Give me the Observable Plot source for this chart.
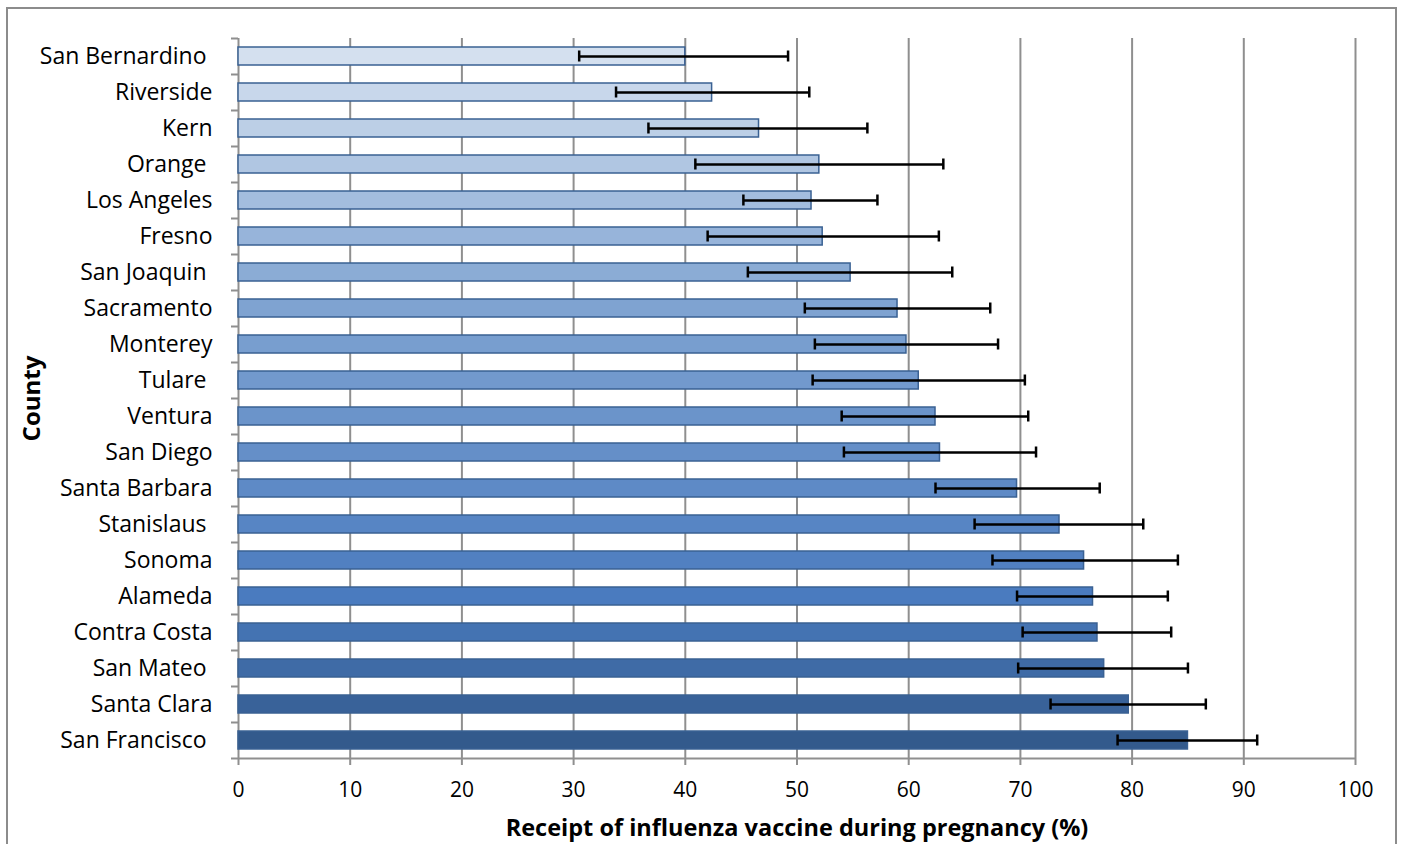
<!DOCTYPE html>
<html>
<head>
<meta charset="utf-8">
<script src="https://cdn.jsdelivr.net/npm/d3@7"></script>
<script src="https://cdn.jsdelivr.net/npm/@observablehq/plot@0.6"></script>
<style>
  html, body { margin: 0; padding: 0; background: #fff; overflow: hidden; width: 1401px; height: 844px; }
  #frame { position: absolute; left: 6px; top: 7px; width: 1391px; height: 900px; border: 2px solid #8c8c8c; box-sizing: border-box; }
  #chart { position: absolute; left: 0; top: 0; }
  #chart svg text { white-space: pre; }
</style>
</head>
<body>
<div id="frame"></div>
<div id="chart"></div>
<script>
const counties = ["San Bernardino ", "Riverside", "Kern", "Orange ", "Los Angeles", "Fresno", "San Joaquin ", "Sacramento", "Monterey", "Tulare ", "Ventura", "San Diego", "Santa Barbara", "Stanislaus ", "Sonoma", "Alameda", "Contra Costa", "San Mateo ", "Santa Clara", "San Francisco "];
const estimates = [40.0, 42.4, 46.6, 52.0, 51.3, 52.3, 54.8, 59.0, 59.8, 60.9, 62.4, 62.8, 69.7, 73.5, 75.7, 76.5, 76.9, 77.5, 79.7, 85.0];
const lower = [30.5, 33.8, 36.7, 40.9, 45.2, 42.0, 45.6, 50.7, 51.6, 51.4, 54.0, 54.2, 62.4, 65.9, 67.5, 69.7, 70.2, 69.8, 72.7, 78.7];
const upper = [49.2, 51.1, 56.3, 63.1, 57.2, 62.7, 63.9, 67.3, 68.0, 70.4, 70.7, 71.4, 77.1, 81.0, 84.1, 83.2, 83.5, 85.0, 86.6, 91.2];
const xTicks = [0, 10, 20, 30, 40, 50, 60, 70, 80, 90, 100];
const xLabel = "Receipt of influenza vaccine during pregnancy (%)";
const yLabel = "County";

const data = counties.map((c, i) => ({county: c, idx: i, value: estimates[i], lo: lower[i], hi: upper[i]}));

const font = "'Open Sans', 'Noto Sans', sans-serif";
const gridColor = "#8f8f8f";

const chart = Plot.plot({
  width: 1401,
  height: 844,
  marginLeft: 238,
  marginRight: 46,
  marginTop: 38,
  marginBottom: 86,
  style: {fontFamily: font, fontSize: "22px", color: "#000", background: "transparent"},
  x: {domain: [0, 100], ticks: xTicks, label: null},
  y: {domain: counties, paddingInner: 0.5, paddingOuter: 0.25, label: null},
  color: {type: "linear", domain: [0, 7, 15, 19], range: ["#d4e0ef", "#7fa3d1", "#4a7bbf", "#335a8c"]},
  marks: [
    Plot.ruleX(xTicks.filter(d => d > 0), {stroke: gridColor, strokeWidth: 2, strokeOpacity: 1}),
    Plot.ruleX([0], {stroke: gridColor, strokeWidth: 2, strokeOpacity: 1}),
    Plot.ruleY([counties[counties.length - 1]], {dy: 18, x1: 0, x2: 100, stroke: gridColor, strokeWidth: 2, strokeOpacity: 1}),
    Plot.axisY({tickSize: 7, dy: 18, tickFormat: () => "", label: null, stroke: gridColor, strokeWidth: 2}),
    Plot.axisY([counties[0]], {tickSize: 7, dy: -18, tickFormat: () => "", label: null, stroke: gridColor, strokeWidth: 2}),
    Plot.axisY({tickSize: 0, tickPadding: 26, label: null, fontSize: 23, fill: "#000"}),
    Plot.axisX({ticks: xTicks, tickSize: 7, tickPadding: 17, label: null, fontSize: 21, stroke: gridColor, strokeWidth: 2, fill: "#000"}),
    Plot.barX(data, {y: "county", x: "value", fill: "idx", stroke: "#3a6193", strokeWidth: 1.5}),
    Plot.ruleY(data, {y: "county", x1: "lo", x2: "hi", stroke: "#000", strokeWidth: 2.5}),
    Plot.tickX(data, {y: "county", x: "lo", stroke: "#000", strokeWidth: 2.5, insetTop: 3.5, insetBottom: 3.5}),
    Plot.tickX(data, {y: "county", x: "hi", stroke: "#000", strokeWidth: 2.5, insetTop: 3.5, insetBottom: 3.5}),
    Plot.text([xLabel], {frameAnchor: "bottom", dy: 77, text: d => d, fontSize: 23.5, fontWeight: "bold", fill: "#000"}),
    Plot.text([yLabel], {frameAnchor: "left", dx: -206, rotate: -90, textAnchor: "middle", text: d => d, fontSize: 24, fontWeight: "bold", fill: "#000"})
  ]
});
document.getElementById("chart").appendChild(chart);
</script>
</body>
</html>
